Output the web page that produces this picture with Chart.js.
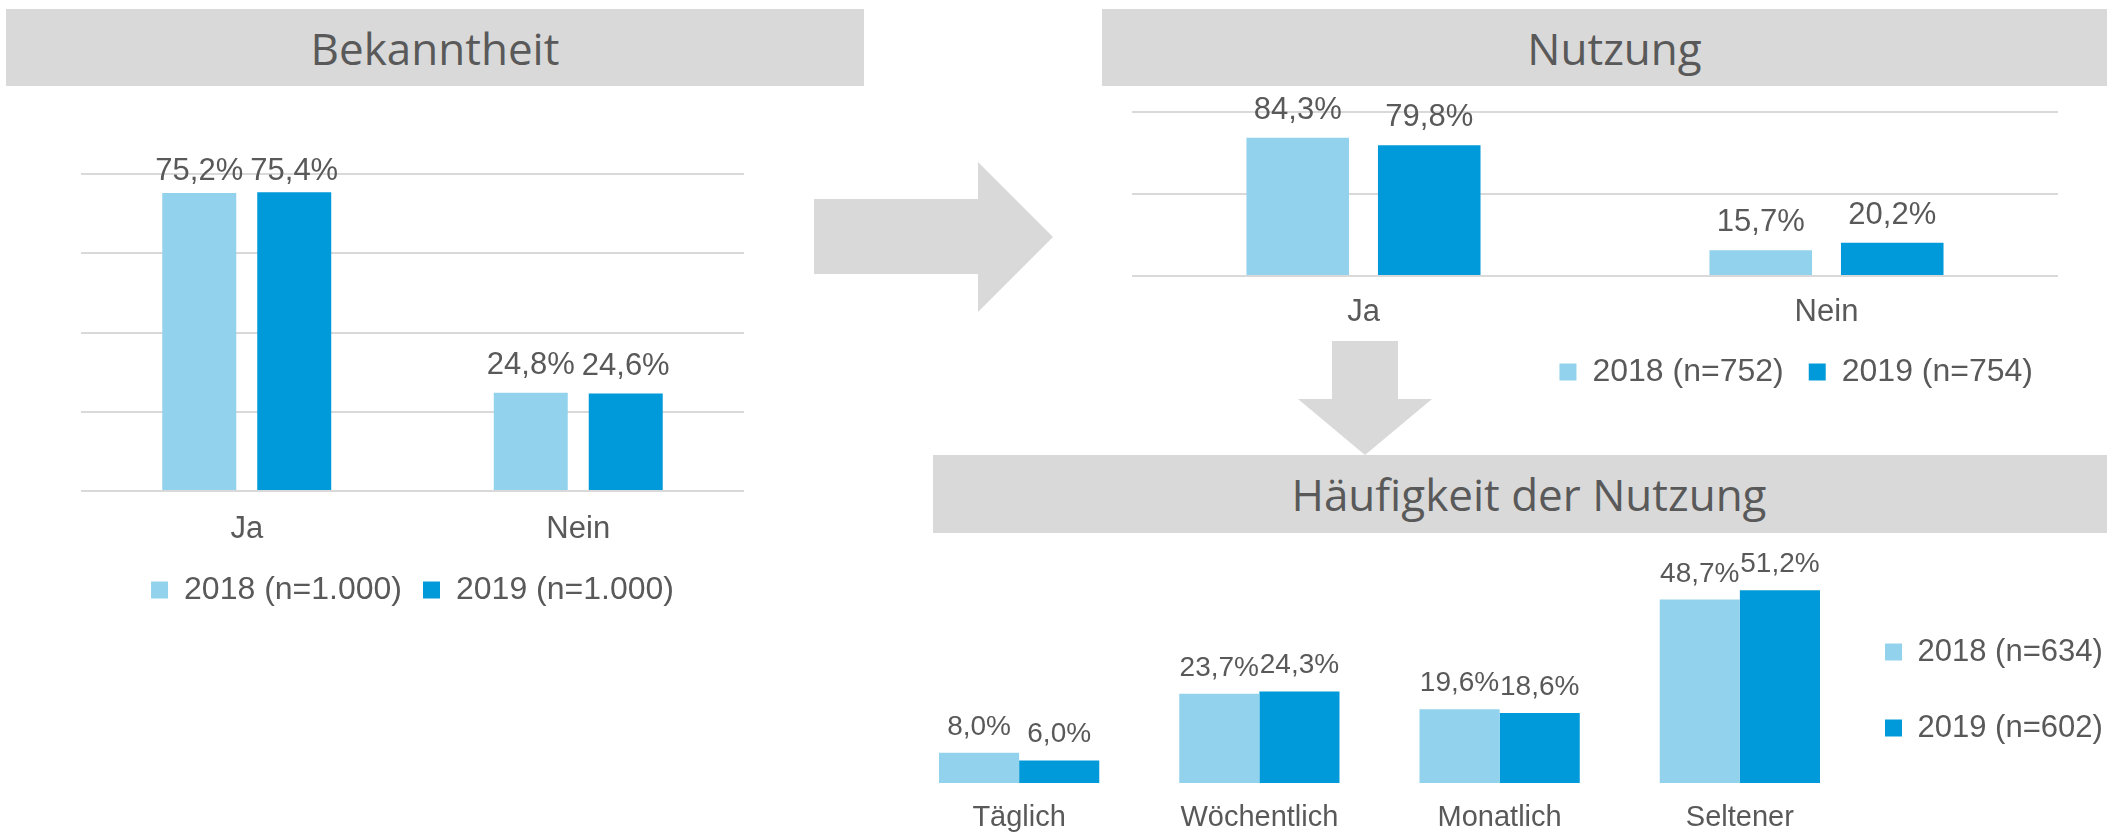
<!DOCTYPE html>
<html lang="de">
<head>
<meta charset="utf-8">
<title>Bekanntheit, Nutzung, Häufigkeit der Nutzung</title>
<script src="https://cdn.jsdelivr.net/npm/chart.js@4.4.1/dist/chart.umd.min.js"></script>
<style>
  html, body { margin: 0; padding: 0; background: #ffffff; }
  body { width: 2107px; height: 833px; position: relative; overflow: hidden; }
  .banner {
    position: absolute; background: #d9d9d9; color: #595959;
    font-family: "Open Sans", "Noto Sans", sans-serif; font-size: 44px; font-weight: 400;
    display: flex; align-items: center; justify-content: center; white-space: nowrap;
  }
  canvas { position: absolute; }
  svg { position: absolute; left: 0; top: 0; }
</style>
</head>
<body>
<div class="banner" style="left:6px; top:9px; width:858px; height:77px;">Bekanntheit</div>
<div class="banner" style="left:1102px; top:9px; width:1025px; height:77px;">Nutzung</div>
<div class="banner" style="left:933px; top:455px; width:1192px; height:78px;">Häufigkeit der Nutzung</div>

<svg width="2107" height="833" viewBox="0 0 2107 833">
  <polygon fill="#d9d9d9" points="814,199 978,199 978,162 1053,237 978,312 978,274 814,274"/>
  <polygon fill="#d9d9d9" points="1332,341 1398,341 1398,399 1432,399 1365,455 1298,399 1332,399"/>
</svg>

<canvas id="c1" width="830" height="459" style="left:0px; top:157px;"></canvas>
<canvas id="c2" width="1007" height="308" style="left:1100px; top:90px;"></canvas>
<canvas id="c3" width="1227" height="303" style="left:880px; top:540px;"></canvas>

<script>
// ---- Data ----
const bekCategories = ['Ja', 'Nein'];
const bek2018 = [75.2, 24.8];
const bek2019 = [75.4, 24.6];
const bekSeries = ['2018 (n=1.000)', '2019 (n=1.000)'];

const nutzCategories = ['Ja', 'Nein'];
const nutz2018 = [84.3, 15.7];
const nutz2019 = [79.8, 20.2];
const nutzSeries = ['2018 (n=752)', '2019 (n=754)'];

const haeufCategories = ['Täglich', 'Wöchentlich', 'Monatlich', 'Seltener'];
const haeuf2018 = [8.0, 23.7, 19.6, 48.7];
const haeuf2019 = [6.0, 24.3, 18.6, 51.2];
const haeufSeries = ['2018 (n=634)', '2019 (n=602)'];

// ---- Styles ----
const LIGHT = '#92d2ed';
const DARK = '#009ada';
const TEXT = '#595959';
const GRID = '#d9d9d9';
const FONT = '"Liberation Sans", Arial, sans-serif';

Chart.defaults.font.family = FONT;
Chart.defaults.color = TEXT;

const valueLabels = {
  id: 'valueLabels',
  afterDatasetsDraw(chart, args, opts) {
    const ctx = chart.ctx;
    ctx.save();
    ctx.font = opts.size + 'px ' + FONT;
    ctx.fillStyle = TEXT;
    ctx.textAlign = 'center';
    ctx.textBaseline = 'alphabetic';
    chart.data.datasets.forEach((ds, i) => {
      const meta = chart.getDatasetMeta(i);
      meta.data.forEach((bar, j) => {
        const txt = ds.data[j].toFixed(1).replace('.', ',') + '%';
        const asc = ctx.measureText(txt).actualBoundingBoxAscent;
        const y = Math.max(bar.y - opts.offset, asc + 1);
        ctx.fillText(txt, bar.x, y);
      });
    });
    ctx.restore();
  }
};

function makeChart(id, cats, d18, d19, series, o) {
  return new Chart(document.getElementById(id), {
    type: 'bar',
    data: {
      labels: cats,
      datasets: [
        { label: o.wrapLabels ? [series[0]] : series[0], data: d18, backgroundColor: LIGHT, borderWidth: 0,
          categoryPercentage: o.catPct, barPercentage: o.barPct },
        { label: o.wrapLabels ? [series[1]] : series[1], data: d19, backgroundColor: DARK, borderWidth: 0,
          categoryPercentage: o.catPct, barPercentage: o.barPct }
      ]
    },
    options: {
      responsive: false,
      animation: false,
      layout: { padding: o.padding },
      scales: {
        x: {
          grid: { display: false, drawTicks: false },
          border: { display: false },
          ticks: { font: { size: o.catSize }, padding: o.tickPad, color: TEXT },
          afterFit: (s) => { s.height = o.xHeight; }
        },
        y: {
          display: o.yDisplay,
          min: 0, max: o.yMax,
          ticks: { display: false, stepSize: o.yStep },
          grid: { color: GRID, lineWidth: 2, drawTicks: false },
          border: { display: false }
        }
      },
      plugins: {
        tooltip: { enabled: false },
        legend: o.legend,
        valueLabels: { size: o.labelSize, offset: o.labelOffset }
      }
    },
    plugins: [valueLabels]
  });
}

makeChart('c1', bekCategories, bek2018, bek2019, bekSeries, {
  catPct: 0.573, barPct: 0.779,
  padding: { top: 17, left: 81, right: 86, bottom: 0 },
  catSize: 31, tickPad: 20, xHeight: 62, yDisplay: true, yMax: 80, yStep: 20,
  labelSize: 31, labelOffset: 19,
  legend: { position: 'bottom', labels: { boxWidth: 17, boxHeight: 17, padding: 21, font: { size: 32 }, color: TEXT } }
});

makeChart('c2', nutzCategories, nutz2018, nutz2019, nutzSeries, {
  catPct: 0.568, barPct: 0.78,
  padding: { top: 22, left: 32, right: 49, bottom: 0 },
  catSize: 31, tickPad: 18, xHeight: 55, yDisplay: true, yMax: 100, yStep: 50,
  labelSize: 31, labelOffset: 19,
  legend: { position: 'bottom', align: 'end', labels: { boxWidth: 17, boxHeight: 17, padding: 25, font: { size: 32 }, color: TEXT } }
});

makeChart('c3', haeufCategories, haeuf2018, haeuf2019, haeufSeries, {
  catPct: 0.667, barPct: 1.0, wrapLabels: true,
  padding: { top: 17, left: 19, right: 0, bottom: 0 },
  catSize: 29, tickPad: 17.6, xHeight: 60, yDisplay: false, yMax: 60, yStep: 10,
  labelSize: 28, labelOffset: 18,
  legend: { position: 'right', maxWidth: 247,
            labels: { boxWidth: 17, boxHeight: 17, padding: 25, font: { size: 31, lineHeight: 1.645 }, color: TEXT } }
});
</script>
</body>
</html>
